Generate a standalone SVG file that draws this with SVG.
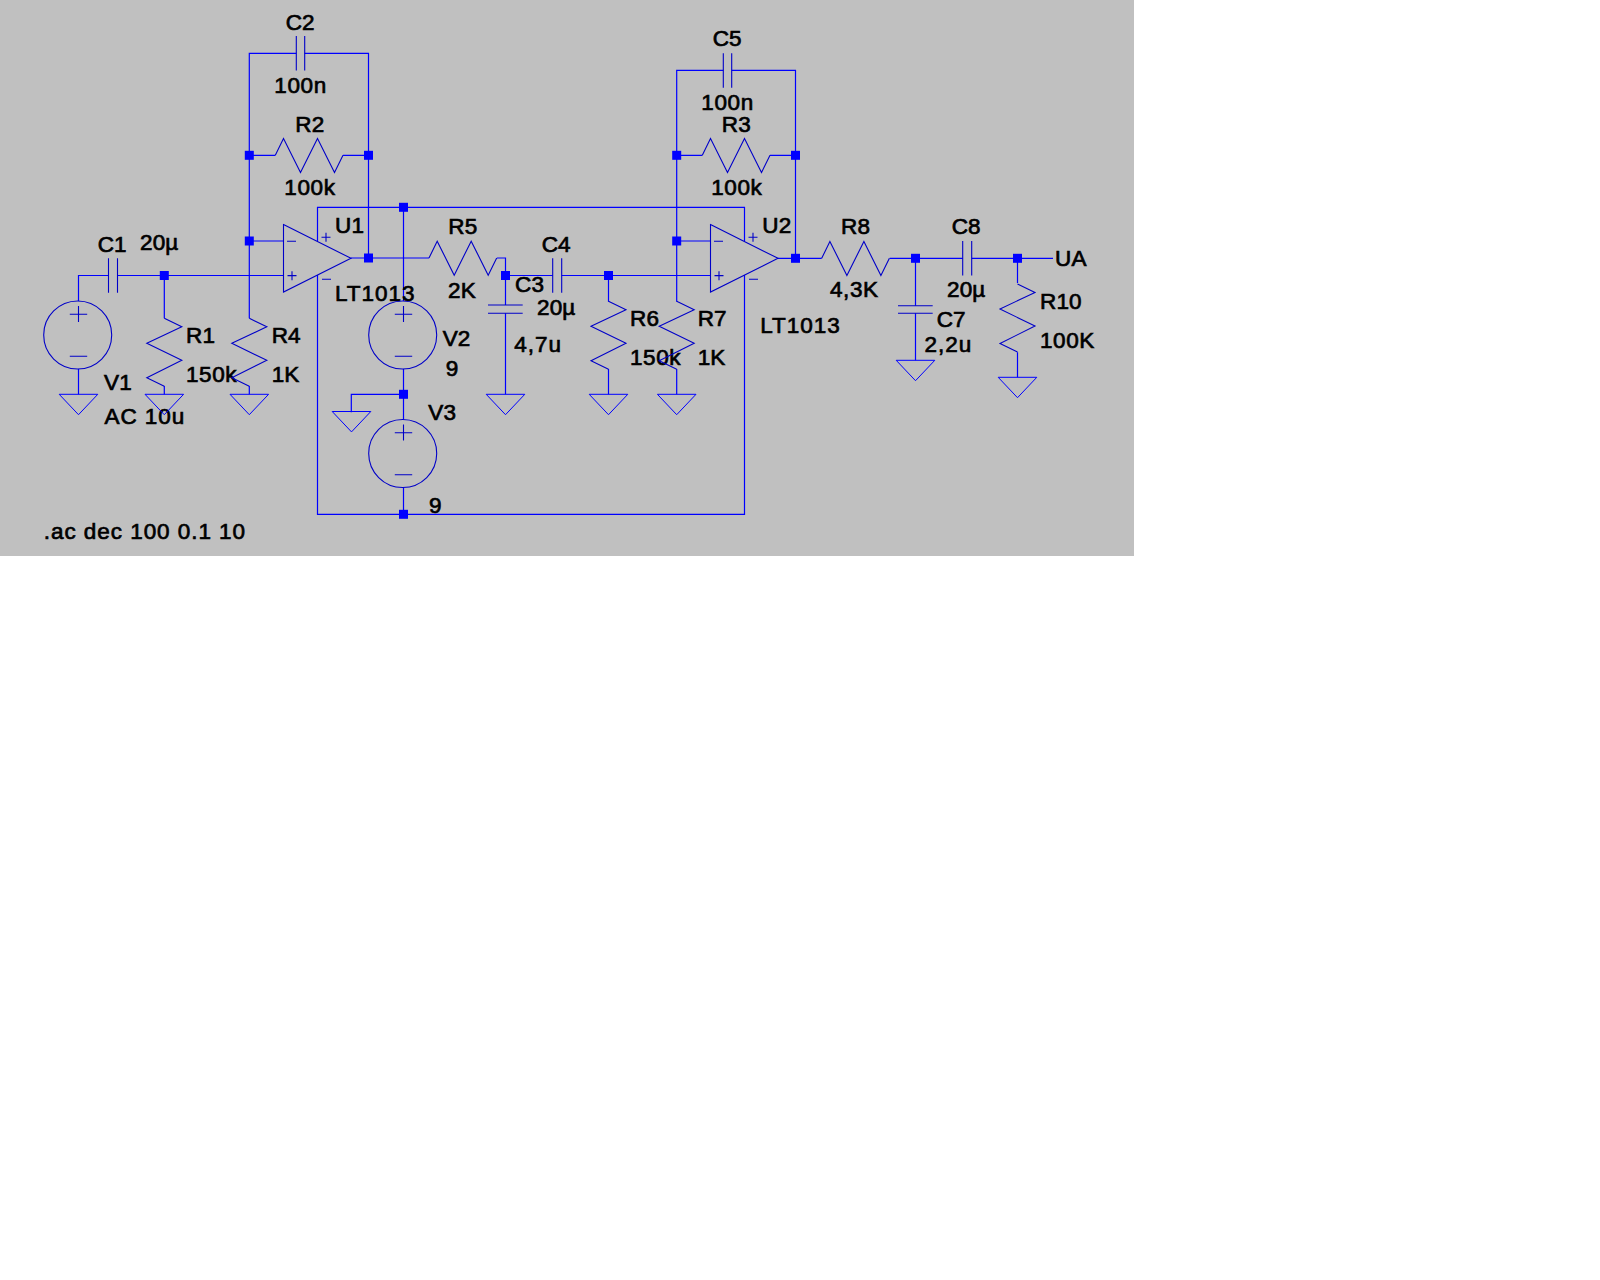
<svg xmlns="http://www.w3.org/2000/svg" width="1600" height="1280" viewBox="0 0 1600 1280">
<style>
text{font-family:"Liberation Sans",Arial,sans-serif;font-size:22.5px;fill:#000;stroke:#000;stroke-width:.7px;letter-spacing:.15px}
text.l{letter-spacing:.95px}
text.m{letter-spacing:.6px}
.w{fill:none;stroke:#0000ff;stroke-width:1.2}
.s{fill:none;stroke:#0000c8;stroke-width:1.1}
.g{fill:none;stroke:#0000ff;stroke-width:1}
.j{fill:#0000ff}
</style>
<defs>
<polygon id="gnd" class="g" points="-19.3,0 19.3,0 0,20.4"/>
<rect id="jn" class="j" x="-4.5" y="-4.5" width="9" height="9"/>
<path id="rv" class="s" d="M0,0 L17.5,8.5 L-17.5,25 L17.5,42 L-17.5,59.5 L0,68"/>
<path id="rh" class="s" d="M0,0 L8.2,-16.8 L25.2,17.2 L42.2,-16.8 L59.2,17.2 L67.7,0"/>
<g id="src"><circle class="s" cx="-.8" r="34"/><path class="s" d="M-8.7,-20.7 H8.7 M0,-29 V-13 M-8.7,21.3 H8.7"/></g>
<g id="opamp"><polygon class="s" points="0,-33.7 67.5,0 0,33.7"/><path class="s" d="M3.5,-17 H12.5 M4,17.3 H13 M8.5,13 V22 M38,-21 H47 M42.5,-25.5 V-16.5 M38.5,21 H47.5"/></g>
</defs>
<rect width="1134" height="556" fill="#c0c0c0"/>
<g id="connectors">
<path class="w" d="M78.5,301 V275.5 H108.5 M117.5,275.5 H283.5 M249.3,318.3 V53.3 H296.3 M304.7,53.3 H368.5 V258 M249.3,155.3 H275.3 M343,155.3 H368.5 M249.3,241 H283.5 M351,258 H429 M497,258 H505.5 V305 M505.5,275.5 H552.7 M561.7,275.5 H710.5 M505.5,313.3 V394.3 M164.3,275.5 V318.3 M164.3,386 V394.3 M249.3,386 V394.3 M78.5,369 V394.3 M403.5,207.3 V301 M403.5,369 V419.5 M403.5,487.5 V514.3 M403.5,394.3 H351.3 V412.3 M317.5,241 V207.3 H744.5 V241 M317.5,275 V514.3 H744.5 V275 M608.5,275.5 V301.7 M608.5,369 V394.3 M676.7,301.7 V70.3 H723.3 M731.7,70.3 H795.5 V258 M676.7,155.3 H702.3 M770,155.3 H795.5 M676.7,241 H710.5 M676.7,369 V394.3 M778,258.3 H821.7 M889.7,258.3 H962.7 M971.7,258.3 H1053 M915.5,258.3 V305.7 M915.5,313.3 V360.3 M1017.5,258.3 V283 M1017.5,352.3 V377.3"/>
<use href="#jn" x="249.3" y="155.3"/><use href="#jn" x="368.5" y="155.3"/><use href="#jn" x="249.3" y="241"/><use href="#jn" x="164.3" y="275.5"/><use href="#jn" x="368.5" y="258"/><use href="#jn" x="403.5" y="207.3"/><use href="#jn" x="403.5" y="394.3"/><use href="#jn" x="403.5" y="514.3"/><use href="#jn" x="505.5" y="275.5"/><use href="#jn" x="608.5" y="275.5"/><use href="#jn" x="676.7" y="155.3"/><use href="#jn" x="795.5" y="155.3"/><use href="#jn" x="676.7" y="241"/><use href="#jn" x="795.5" y="258.3"/><use href="#jn" x="915.5" y="258.3"/><use href="#jn" x="1017.5" y="258.3"/>
</g>
<g id="V1"><use href="#src" x="78.5" y="335"/><use href="#gnd" x="78.5" y="394.3"/><text x="104" y="390">V1</text><text class="l" x="104.5" y="424.3">AC 10u</text></g>
<g id="C1"><path class="s" d="M108.5,258.3 V292.7 M117.5,258.3 V292.7"/><text x="97.7" y="251.7">C1</text><text x="140" y="250">20µ</text></g>
<g id="R1"><use href="#rv" x="164.3" y="318.3"/><use href="#gnd" x="164.3" y="394.3"/><text x="186" y="343.3">R1</text><text class="m" x="186" y="381.7">150k</text></g>
<g id="R4"><use href="#rv" x="249.3" y="318.3"/><use href="#gnd" x="249.3" y="394.3"/><text x="271.7" y="343.3">R4</text><text x="271.7" y="381.7">1K</text></g>
<g id="C2"><path class="s" d="M296.3,36 V70.5 M304.7,36 V70.5"/><text x="285.7" y="29.5">C2</text><text class="m" x="274.3" y="92.7">100n</text></g>
<g id="R2"><use href="#rh" x="275.3" y="155.3"/><text x="295.3" y="131.7">R2</text><text class="m" x="284.3" y="195">100k</text></g>
<g id="U1"><use href="#opamp" x="283.5" y="258.3"/><text x="335" y="232.7">U1</text><text class="l" x="335" y="301">LT1013</text></g>
<g id="V2"><use href="#src" x="403.5" y="335"/><text x="442.7" y="346">V2</text><text x="445.7" y="376">9</text></g>
<g id="V3"><use href="#src" x="403.5" y="453.5"/><use href="#gnd" x="351.5" y="411.5"/><text x="428.3" y="420">V3</text><text x="429" y="513.3">9</text></g>
<g id="R5"><use href="#rh" x="429" y="258"/><text x="448.3" y="234.3">R5</text><text x="448" y="297.7">2K</text></g>
<g id="C3"><path class="s" d="M488,305 H522.7 M488,313.3 H522.7"/><use href="#gnd" x="505.5" y="394.3"/><text x="515" y="291.7">C3</text><text class="l" x="514.3" y="351.7">4,7u</text></g>
<g id="C4"><path class="s" d="M552.7,258.3 V292.7 M561.7,258.3 V292.7"/><text x="541.7" y="251.7">C4</text><text x="537" y="315">20µ</text></g>
<g id="R6"><use href="#rv" x="608.5" y="301.3"/><use href="#gnd" x="608.5" y="394.3"/><text x="630" y="326">R6</text><text class="m" x="630" y="365">150k</text></g>
<g id="R7"><use href="#rv" x="676.7" y="301.3"/><use href="#gnd" x="676.7" y="394.3"/><text x="697.7" y="326">R7</text><text x="697.7" y="365">1K</text></g>
<g id="C5"><path class="s" d="M723.3,53.3 V87.7 M731.7,53.3 V87.7"/><text x="712.7" y="46">C5</text><text class="m" x="701.3" y="110">100n</text></g>
<g id="R3"><use href="#rh" x="702.3" y="155.3"/><text x="721.8" y="131.7">R3</text><text class="m" x="711.2" y="195">100k</text></g>
<g id="U2"><use href="#opamp" x="710.5" y="258.3"/><text x="762.3" y="232.7">U2</text><text class="l" x="760.3" y="332.7">LT1013</text></g>
<g id="R8"><use href="#rh" x="821.7" y="258.3"/><text x="841" y="234.3">R8</text><text class="m" x="830" y="297.3">4,3K</text></g>
<g id="C7"><path class="s" d="M898,305.7 H932.7 M898,313.3 H932.7"/><use href="#gnd" x="915.5" y="360.3"/><text x="936.7" y="326.7">C7</text><text class="l" x="924.5" y="351.7">2,2u</text></g>
<g id="C8"><path class="s" d="M962.7,241 V275.5 M971.7,241 V275.5"/><text x="951.7" y="234.3">C8</text><text x="947" y="297.3">20µ</text></g>
<g id="R10"><use href="#rv" x="1017.5" y="284"/><use href="#gnd" x="1017.5" y="377.3"/><text x="1040" y="309.3">R10</text><text class="m" x="1040" y="347.7">100K</text></g>
<g id="UA"><text x="1055" y="266">UA</text></g>
<g id="directive"><text class="l" x="43.8" y="539.3">.ac dec 100 0.1 10</text></g>
</svg>
